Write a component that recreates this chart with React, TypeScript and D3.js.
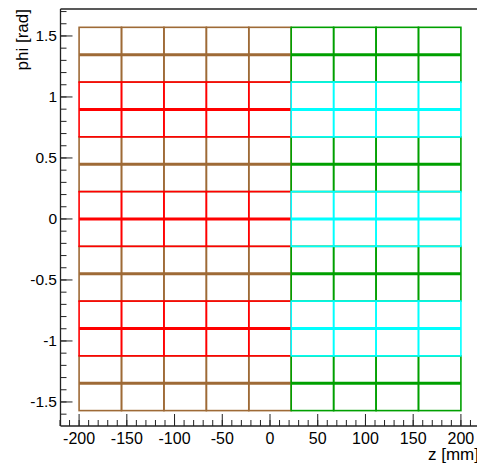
import React from "react";
import * as d3 from "d3";

// Module boundaries along z [mm] (9 columns)
const zEdges = [-200, -155.56, -111.11, -66.67, -22.22, 22.22, 66.67, 111.11, 155.56, 200];
// Column index where the second detector half starts
const zSplitIndex = 5;
// Sector boundaries in phi [rad] (7 sectors, each split in two rows)
const phiEdges = [-1.5708, -1.122, -0.6732, -0.2244, 0.2244, 0.6732, 1.122, 1.5708];
// Sector type, bottom to top
const sectorKind = ["outer", "inner", "outer", "inner", "outer", "inner", "outer"];

const xTickMajor = [-200, -150, -100, -50, 0, 50, 100, 150, 200];
const yTickMajor = [-1.5, -1, -0.5, 0, 0.5, 1, 1.5];
const xTickLabels = ["-200", "-150", "-100", "-50", "0", "50", "100", "150", "200"];
const yTickLabels = ["-1.5", "-1", "-0.5", "0", "0.5", "1", "1.5"];

const colors: Record<string, Record<string, string>> = {
  left: { outer: "#9e6a36", inner: "#ff0000" },
  right: { outer: "#00a000", inner: "#00ffff" },
};

const W = 477;
const H = 466;
const frame = { left: 60.5, right: 480, top: 9, bottom: 426 };
const FONT = "'Liberation Sans', Arial, Helvetica, sans-serif";

export default function App() {
  const x = d3.scaleLinear().domain([-220, 220]).range([frame.left - 0.5, frame.right]);
  const y = d3.scaleLinear().domain([-1.697, 1.721]).range([frame.bottom, frame.top]);

  const xMinor = d3.range(-220, 221, 10);
  const yMinor = d3.range(-16, 18, 1).map((v) => v / 10);

  const halves = [
    { side: "left", cols: d3.range(0, zSplitIndex) },
    { side: "right", cols: d3.range(zSplitIndex, zEdges.length - 1) },
  ];

  const cells: JSX.Element[] = [];
  halves.forEach(({ side, cols }) => {
    ["outer", "inner"].forEach((kind) => {
      sectorKind.forEach((k, si) => {
        if (k !== kind) return;
        const p0 = phiEdges[si];
        const p1 = phiEdges[si + 1];
        const pm = (p0 + p1) / 2;
        const col = colors[side][kind];
        cols.forEach((ci) => {
          const xa = x(zEdges[ci]);
          const xb = x(zEdges[ci + 1]);
          const ya = y(p1);
          const yb = y(p0);
          cells.push(
            <rect
              key={`${side}-${si}-${ci}`}
              x={xa}
              y={ya}
              width={xb - xa}
              height={yb - ya}
              fill="none"
              stroke={col}
              strokeWidth={1.6}
            />
          );
          cells.push(
            <line
              key={`${side}-${si}-${ci}-m`}
              x1={xa}
              x2={xb}
              y1={y(pm)}
              y2={y(pm)}
              stroke={col}
              strokeWidth={3}
            />
          );
        });
      });
    });
  });

  const axisColor = "#222";

  return (
    <svg
      width={W}
      height={H}
      style={{ position: "absolute", left: 0, top: 0, background: "#fff" }}
      fontFamily={FONT}
    >
      <rect x={0} y={0} width={W} height={H} fill="#fff" />
      <g>{cells}</g>

      {/* frame */}
      <line x1={frame.left} x2={frame.right} y1={frame.top} y2={frame.top} stroke={axisColor} strokeWidth={1.3} />
      <line x1={frame.right} x2={frame.right} y1={frame.top} y2={frame.bottom} stroke={axisColor} strokeWidth={1.3} />

      {/* y axis */}
      <line x1={frame.left} x2={frame.left} y1={frame.top} y2={frame.bottom} stroke={axisColor} strokeWidth={1.3} />
      {yMinor.map((v) => (
        <line key={`ym${v}`} x1={frame.left} x2={frame.left + 6} y1={y(v)} y2={y(v)} stroke={axisColor} strokeWidth={1} />
      ))}
      {yTickMajor.map((v, i) => (
        <g key={`yM${v}`}>
          <line x1={frame.left} x2={frame.left + 12} y1={y(v)} y2={y(v)} stroke={axisColor} strokeWidth={1} />
          <text x={57} y={y(v) + 5.5} textAnchor="end" fontSize={15.5} fill="#000">
            {yTickLabels[i]}
          </text>
        </g>
      ))}
      <text
        transform={`translate(28, ${frame.top}) rotate(-90)`}
        textAnchor="end"
        fontSize={17}
        fill="#000"
      >
        phi [rad]
      </text>

      {/* x axis */}
      <line x1={frame.left} x2={frame.right} y1={frame.bottom} y2={frame.bottom} stroke={axisColor} strokeWidth={1.3} />
      {xMinor.map((v) => (
        <line key={`xm${v}`} x1={x(v)} x2={x(v)} y1={frame.bottom} y2={frame.bottom - 6} stroke={axisColor} strokeWidth={1} />
      ))}
      {xTickMajor.map((v, i) => (
        <g key={`xM${v}`}>
          <line x1={x(v)} x2={x(v)} y1={frame.bottom} y2={frame.bottom - 12} stroke={axisColor} strokeWidth={1} />
          <text x={x(v)} y={443.5} textAnchor="middle" fontSize={16} fill="#000">
            {xTickLabels[i]}
          </text>
        </g>
      ))}
      <text x={479} y={459.5} textAnchor="end" fontSize={17} fill="#000">
        z [mm]
      </text>
    </svg>
  );
}
